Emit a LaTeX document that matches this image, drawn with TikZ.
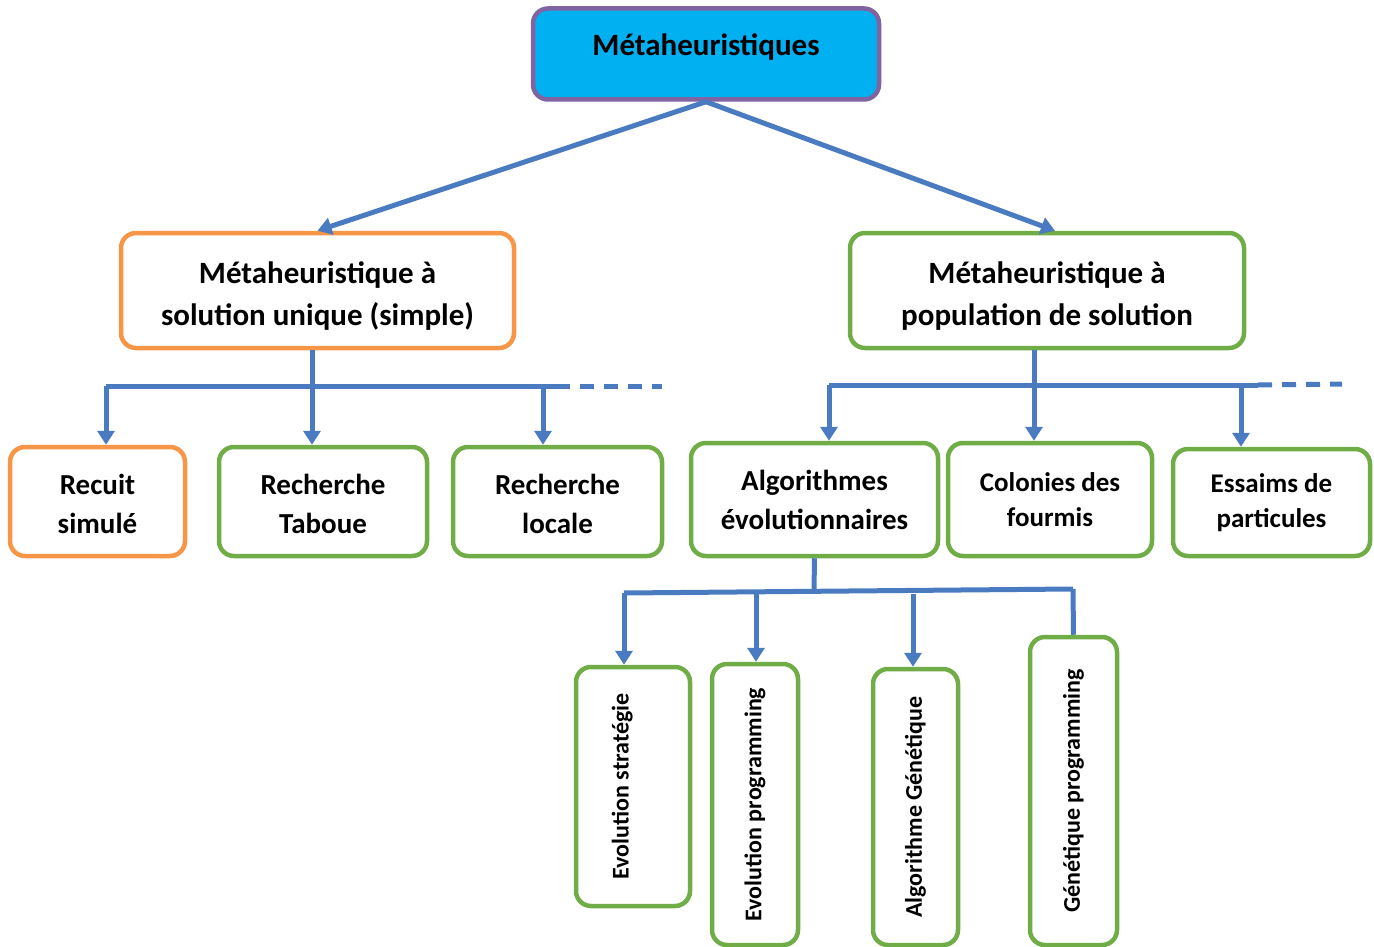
\documentclass[tikz,border=0pt]{standalone}
\usepackage{fontspec}
\setmainfont{Carlito}
\usetikzlibrary{arrows.meta,positioning}

\definecolor{rootfill}{HTML}{00B0F0}
\definecolor{rootdraw}{HTML}{8064A2}
\definecolor{boxorange}{HTML}{F79646}
\definecolor{boxgreen}{HTML}{70AD47}
\definecolor{linkblue}{HTML}{4A7BC0}

\newcommand{\nudge}[2]{\raisebox{#1}[\height][\depth]{\begin{tabular}{@{}c@{}}#2\end{tabular}}}

\begin{document}
\begin{tikzpicture}[x=1pt, y=-1pt,
    box/.style={draw, fill=white, rounded corners=15pt, line width=4.5pt, align=center, inner sep=0pt},
    rootbox/.style={box, draw=rootdraw, fill=rootfill, font=\bfseries\fontsize{31}{40}\selectfont},
    bigbox/.style={box, font=\bfseries\fontsize{31}{42}\selectfont},
    leafbox/.style={box, draw=boxgreen, font=\bfseries\fontsize{29}{39}\selectfont},
    smallbox/.style={box, draw=boxgreen, font=\bfseries\fontsize{27}{35}\selectfont},
    vertbox/.style={box, draw=boxgreen, rotate=90, font=\bfseries\fontsize{24}{28}\selectfont},
    link/.style={line width=5pt, draw=linkblue},
    arrow/.style={link, -{Triangle[width=17pt, length=14pt]}}
]
    \useasboundingbox (0,0) rectangle (1374,947);

    % --- Root ---
    \node[rootbox, minimum width=346pt, minimum height=91pt] (root) at (706,54) {\nudge{6pt}{Métaheuristiques}};

    % --- Level 1 ---
    \node[bigbox, draw=boxorange, minimum width=393pt, minimum height=115pt] (single) at (317.5,290.5) {\nudge{-6pt}{Métaheuristique à\\solution unique (simple)}};
    \node[bigbox, draw=boxgreen, minimum width=394pt, minimum height=115pt] (pop) at (1047,290.5) {\nudge{-6pt}{Métaheuristique à\\population de solution}};

    \draw[arrow] (root.south) -- (single.north);
    \draw[arrow] (root.south) -- (1055,0 |- pop.north);

    % --- Left: single solution methods ---
    \node[leafbox, draw=boxorange, minimum width=175pt, minimum height=109pt] (recuit) at (97.5,501.5) {\nudge{-5pt}{Recuit\\simulé}};
    \node[leafbox, minimum width=208pt, minimum height=109pt] (tabou) at (323,501.5) {\nudge{-5pt}{Recherche\\Taboue}};
    \node[leafbox, minimum width=209pt, minimum height=109pt] (locale) at (557.5,501.5) {\nudge{-5pt}{Recherche\\locale}};

    \coordinate (lbus) at (312,386);
    \coordinate (lend) at (556,386);
    \coordinate (ldash) at (662,386);
    \draw[link] (lbus |- single.south) -- (lbus);
    \draw[link] (106,386) -- (lend);
    \draw[link, dash pattern=on 14pt off 10pt] (lend) -- (ldash);
    \foreach \x/\target in {106/recuit, 312/tabou, 543/locale} {
        \draw[arrow] (\x,386) -- (\x,0 |- \target.north);
    }

    % --- Right: population methods ---
    \node[leafbox, minimum width=247pt, minimum height=113pt] (algo) at (814.5,499.5) {Algorithmes\\évolutionnaires};
    \node[smallbox, minimum width=204pt, minimum height=113pt] (fourmis) at (1050,499.5) {Colonies des\\fourmis};
    \node[smallbox, minimum width=197pt, minimum height=107pt] (essaims) at (1271.5,502.5) {Essaims de\\particules};

    \coordinate (rbus) at (1034,385);
    \coordinate (rend) at (1258,385);
    \coordinate (rdash) at (1342,384);
    \draw[link] (rbus |- pop.south) -- (rbus);
    \draw[link] (829,385) -- (rend);
    \draw[link, dash pattern=on 14pt off 10pt] (rend) -- (rdash);
    \foreach \x/\target in {829/algo, 1034/fourmis, 1241/essaims} {
        \draw[arrow] (\x,385) -- (\x,0 |- \target.north);
    }

    % --- Bottom: evolutionary algorithms ---
    \node[vertbox, minimum width=239pt, minimum height=114pt] (strat) at (633,786.5) {\nudge{10pt}{Evolution stratégie}};
    \node[vertbox, minimum width=281pt, minimum height=86pt] (evprog) at (755,804.5) {Evolution programming};
    \node[vertbox, minimum width=276pt, minimum height=85pt] (genalg) at (915.5,807) {Algorithme Génétique};
    \node[vertbox, minimum width=308pt, minimum height=87pt] (genprog) at (1073.5,791) {Génétique programming};

    \coordinate (ebus) at (814,591);
    \draw[link] (algo.south) -- (ebus);
    \draw[link] (624,593) -- (1073,589);
    \draw[arrow] (624,593) -- (624,0 |- strat.east);
    \draw[arrow] (756,592) -- (756,0 |- evprog.east);
    \draw[arrow] (913,594) -- (913,0 |- genalg.east);
    \draw[link] (1073,589) -- (genprog.east);
\end{tikzpicture}
\end{document}
